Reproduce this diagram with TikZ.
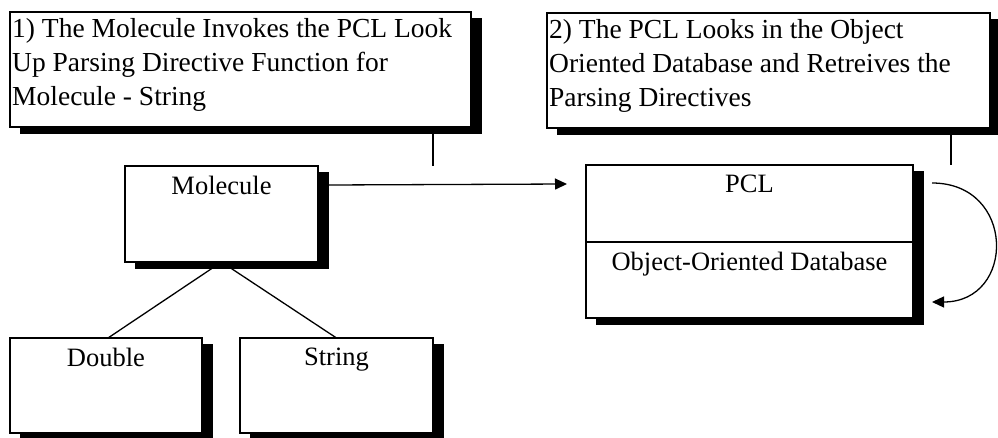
\documentclass[tikz,border=0pt]{standalone}
\usepackage{fontspec}
\setmainfont{Liberation Serif}
\usetikzlibrary{arrows.meta}
\tikzset{
  umlbox/.style={draw=black, fill=white, line width=1.3pt, rectangle, inner sep=0pt, outer sep=0pt},
  shade/.style={fill=black},
  lbl/.style={font=\fontsize{26.5}{30}\selectfont, inner sep=0pt, anchor=north},
  note/.style={font=\fontsize{27.5}{34}\selectfont, inner sep=0pt, anchor=north west, align=left},
  conn/.style={line width=1.3pt},
  arr/.style={line width=1.3pt, -{Triangle[length=12pt,width=11pt]}}
}
\newcommand{\shbox}[5]{%
  \fill[shade] (#2+10,#3+6) rectangle (#4+11,#5+7);
  \node[umlbox, minimum width=#4pt-#2pt, minimum height=#5pt-#3pt, anchor=north west] (#1) at (#2,#3) {};
}
\begin{document}
\begin{tikzpicture}[x=1pt,y=-1pt]
\useasboundingbox (0,0) rectangle (998,438);
% callouts
\shbox{c1}{10}{12}{471}{127}
\node[note] (c1t) at (12,18) {1) The Molecule Invokes the PCL Look\\Up Parsing Directive Function for\\Molecule - String};
\shbox{c2}{547}{13}{990}{128}
\node[note] (c2t) at (549,19) {2) The PCL Looks in the Object\\Oriented Database and Retreives the\\Parsing Directives};
% classes
\shbox{mol}{125}{166}{318}{262}
\node[lbl] (molt) at ([yshift=-10pt]mol.north) {Molecule};
\shbox{pcl}{586}{165}{913}{318}
\node[lbl] (pclt) at ([yshift=-10pt]pcl.north) {PCL};
\coordinate (divl) at (586,242);
\coordinate (divr) at (913,242);
\draw[conn] (divl) -- (divr);
\node[lbl] (oodb) at ([yshift=-10pt]pcl.north |- divl) {Object-Oriented Database};
\shbox{dbl}{10}{338}{202}{433}
\node[lbl] (dblt) at ([yshift=-10pt]dbl.north) {Double};
\shbox{str}{240}{338}{433}{433}
\node[lbl] (strt) at ([yshift=-10pt]str.north) {String};
% connectors
\draw[conn] (mol.south) -- ([xshift=2pt]dbl.north);
\draw[conn] (mol.south) -- (str.north);
\draw[arr] ([xshift=11pt,yshift=-19pt]mol.north east) -- ([xshift=-19pt,yshift=-19pt]pcl.north west);
\draw[arr] ([xshift=19pt,yshift=-18pt]pcl.north east) .. controls +(84,0) and +(84,0) .. ([xshift=19pt,yshift=16pt]pcl.south east);
\draw[conn] ([xshift=-38pt]c1.south east) -- +(0,39);
\draw[conn] ([xshift=-39pt]c2.south east) -- +(0,37);
\end{tikzpicture}
\end{document}
